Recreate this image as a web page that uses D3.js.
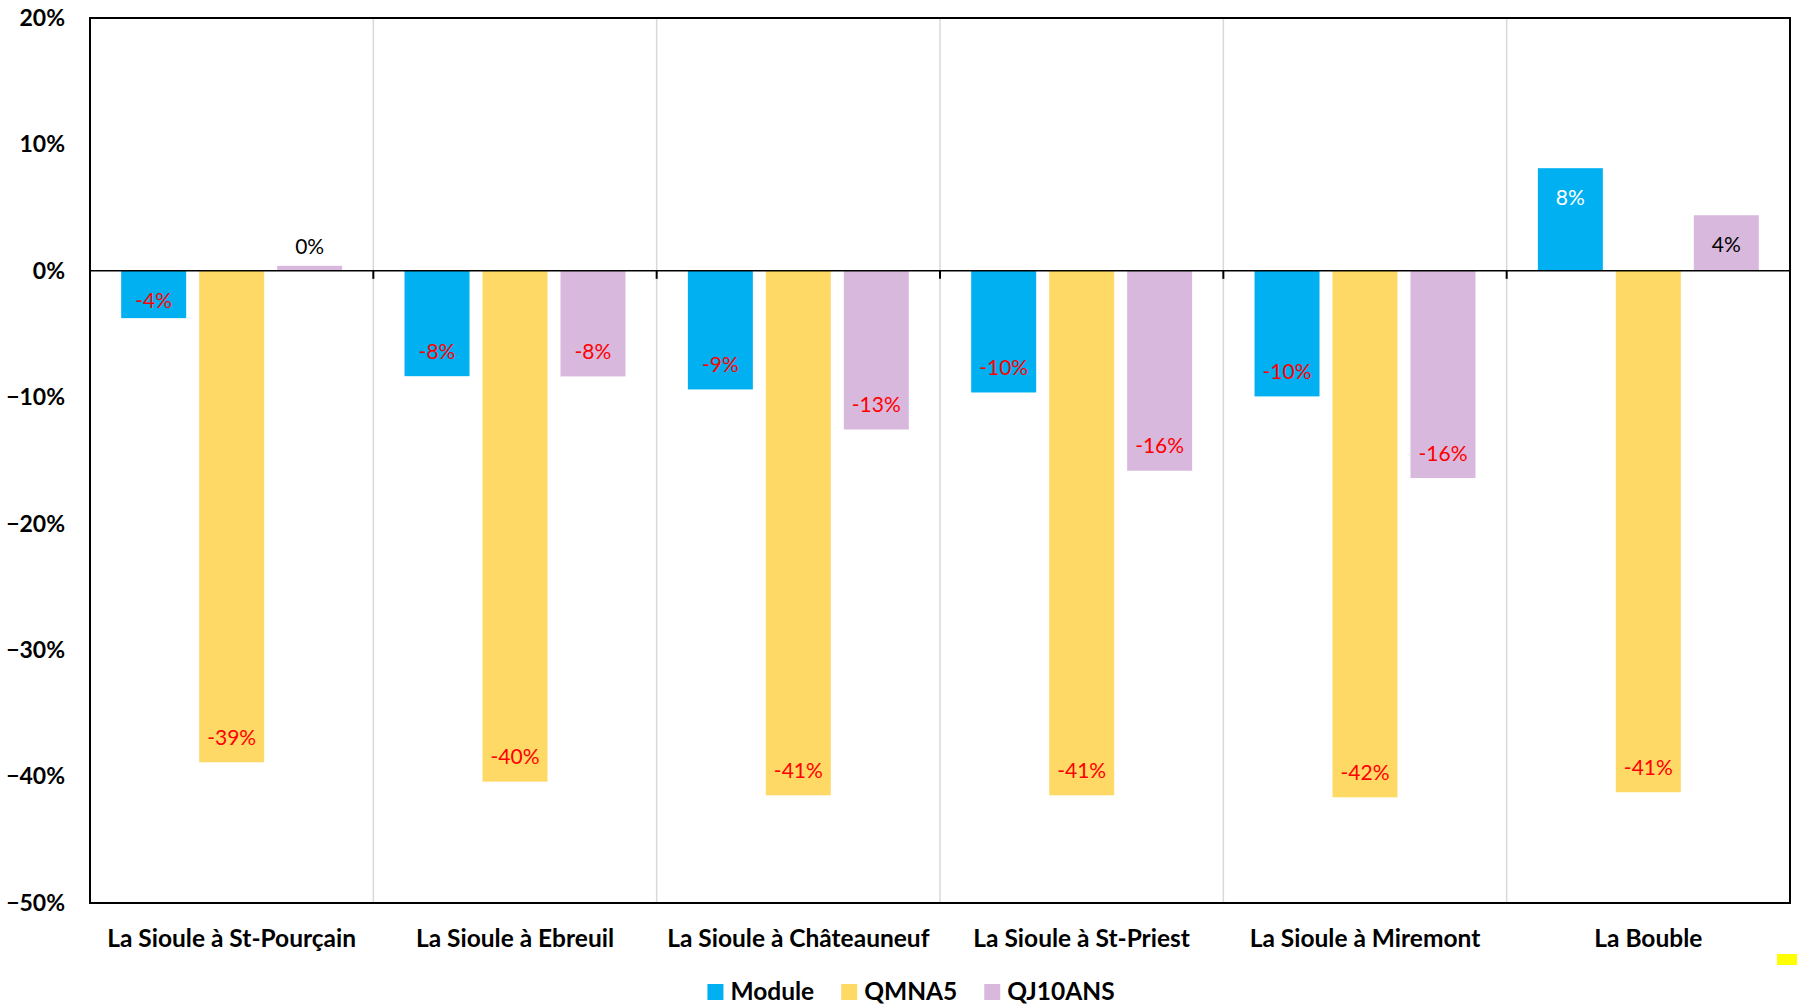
<!DOCTYPE html>
<html>
<head>
<meta charset="utf-8">
<script src="https://cdn.jsdelivr.net/npm/d3@7"></script>
<style>
  html, body { margin: 0; padding: 0; background: #fff; }
  svg { display: block; font-family: Lato, "Open Sans", sans-serif; }
</style>
</head>
<body>
<div id="chart"></div>
<script>
const CATEGORIES = [
  "La Sioule à St-Pourçain",
  "La Sioule à Ebreuil",
  "La Sioule à Châteauneuf",
  "La Sioule à St-Priest",
  "La Sioule à Miremont",
  "La Bouble",
];
const SERIES = ["Module", "QMNA5", "QJ10ANS"];
const MODULE = [-0.0374, -0.0833, -0.0938, -0.0962, -0.0993, 0.0812];
const QMNA5 = [-0.3887, -0.4040, -0.4148, -0.4148, -0.4164, -0.4124];
const QJ10ANS = [0.004, -0.0835, -0.1255, -0.1581, -0.1639, 0.044];
const Y_TICKS = [0.2, 0.1, 0, -0.1, -0.2, -0.3, -0.4, -0.5];

const COLORS = { Module: "#00B0F0", QMNA5: "#FFD966", QJ10ANS: "#D9B8DE" };
const VALUES = { Module: MODULE, QMNA5: QMNA5, QJ10ANS: QJ10ANS };

const W = 1797, H = 1006;
const margin = { top: 18, right: 7, bottom: 103, left: 90 };
const plotBottom = H - margin.bottom;

const svg = d3.select("#chart").append("svg")
  .attr("width", W)
  .attr("height", H)
  .attr("viewBox", [0, 0, W, H]);

const y = d3.scaleLinear().domain([-0.5, 0.2]).range([plotBottom, margin.top]);
const x0 = d3.scaleBand().domain(CATEGORIES).range([margin.left, W - margin.right]).padding(0);
const x1 = d3.scaleBand().domain(SERIES).range([0, x0.bandwidth()])
  .paddingInner(1 / 6).paddingOuter(0.4);

// light vertical separators between categories
svg.append("g")
  .selectAll("line")
  .data(CATEGORIES.slice(1))
  .join("line")
  .attr("x1", d => x0(d)).attr("x2", d => x0(d))
  .attr("y1", margin.top).attr("y2", plotBottom)
  .attr("stroke", "#d9d9d9")
  .attr("stroke-width", 1.5);

// bars
const rows = CATEGORIES.flatMap((c, i) => SERIES.map(s => ({ cat: c, series: s, v: VALUES[s][i] })));

svg.append("g")
  .selectAll("rect")
  .data(rows)
  .join("rect")
  .attr("x", d => x0(d.cat) + x1(d.series))
  .attr("width", x1.bandwidth())
  .attr("y", d => y(Math.max(0, d.v)))
  .attr("height", d => Math.abs(y(d.v) - y(0)))
  .attr("fill", d => COLORS[d.series]);

// zero line + category ticks
svg.append("line")
  .attr("x1", margin.left).attr("x2", W - margin.right)
  .attr("y1", y(0)).attr("y2", y(0))
  .attr("stroke", "#000").attr("stroke-width", 1.5);

svg.append("g")
  .selectAll("line")
  .data(CATEGORIES.slice(1))
  .join("line")
  .attr("x1", d => x0(d)).attr("x2", d => x0(d))
  .attr("y1", y(0)).attr("y2", y(0) + 8)
  .attr("stroke", "#000").attr("stroke-width", 2);

// plot frame
svg.append("rect")
  .attr("x", margin.left).attr("y", margin.top)
  .attr("width", W - margin.left - margin.right)
  .attr("height", plotBottom - margin.top)
  .attr("fill", "none")
  .attr("stroke", "#000")
  .attr("stroke-width", 2);

// data labels
function labelY(d) {
  const end = y(d.v), zero = y(0), len = Math.abs(end - zero);
  if (len < 20) return end - 19;          // too small: put above
  if (d.v < 0) return end - Math.min(25, 0.38 * len);
  return end + 29;
}
function labelColor(d) {
  if (d.v < 0) return "#FF0000";
  if (Math.abs(y(d.v) - y(0)) < 20) return "#000";
  return d.series === "Module" ? "#fff" : "#000";
}

svg.append("g")
  .selectAll("text")
  .data(rows)
  .join("text")
  .attr("x", d => x0(d.cat) + x1(d.series) + x1.bandwidth() / 2)
  .attr("y", labelY)
  .attr("dy", "0.36em")
  .attr("text-anchor", "middle")
  .attr("font-size", "21px")
  .attr("fill", labelColor)
  .text(d => `${Math.round(d.v * 100)}%`);

// y axis
const yAxis = svg.append("g")
  .attr("transform", `translate(${margin.left},0)`)
  .call(d3.axisLeft(y).tickValues(Y_TICKS).tickFormat(d3.format(".0%")).tickSize(0).tickPadding(25));
yAxis.select(".domain").remove();
yAxis.selectAll("text")
  .attr("font-family", "Lato, sans-serif")
  .attr("font-size", "23px")
  .attr("font-weight", "bold")
  .attr("fill", "#000");

// category labels
svg.append("g")
  .selectAll("text")
  .data(CATEGORIES)
  .join("text")
  .attr("x", d => x0(d) + x0.bandwidth() / 2)
  .attr("y", 947)
  .attr("text-anchor", "middle")
  .attr("font-size", "24.5px")
  .attr("font-weight", "bold")
  .attr("fill", "#000")
  .text(d => d);

// legend
const legend = svg.append("g");
let lx = 0;
SERIES.forEach(s => {
  const g = legend.append("g").attr("transform", `translate(${lx},0)`);
  g.append("rect").attr("x", 0).attr("y", -16).attr("width", 16).attr("height", 16).attr("fill", COLORS[s]);
  const t = g.append("text")
    .attr("x", 23).attr("y", 0)
    .attr("font-size", "24.5px")
    .attr("font-weight", "bold")
    .attr("fill", "#000")
    .text(s);
  lx += 23 + t.node().getComputedTextLength() + 27;
});
const legendW = lx - 27;
legend.attr("transform", `translate(${911 - legendW / 2},1000)`);

// small yellow mark at lower right
svg.append("rect")
  .attr("x", 1777).attr("y", 954).attr("width", 20).attr("height", 11)
  .attr("fill", "#FFFF00");
</script>
</body>
</html>
